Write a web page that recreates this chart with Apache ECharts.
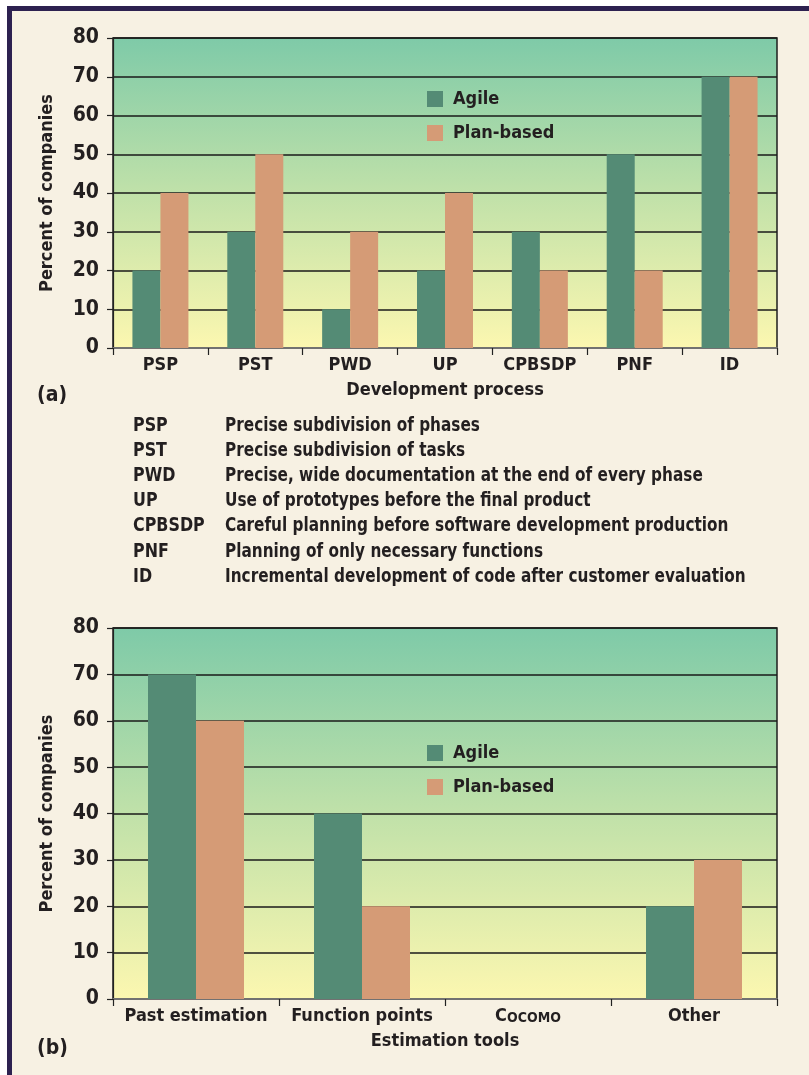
<!DOCTYPE html>
<html><head><meta charset="utf-8">
<script src="https://cdn.jsdelivr.net/npm/echarts@6/dist/echarts.min.js"></script>
<style>html,body{margin:0;padding:0;background:#fff;}#c{width:809px;height:1075px;}</style>
</head><body><div id="c"></div>
<script>
const processCats = ['PSP','PST','PWD','UP','CPBSDP','PNF','ID'];
const processAgile = [20,30,10,20,30,50,70];
const processPlan = [40,50,30,40,20,20,70];
const toolCats = ['Past estimation','Function points','Cocomo','Other'];
const toolAgile = [70,40,0,20];
const toolPlan = [60,20,0,30];
const yTicks = [0,10,20,30,40,50,60,70,80];
const defAbbr = ['PSP','PST','PWD','UP','CPBSDP','PNF','ID'];
const defText = ['Precise subdivision of phases','Precise subdivision of tasks','Precise, wide documentation at the end of every phase','Use of prototypes before the final product','Careful planning before software development production','Planning of only necessary functions','Incremental development of code after customer evaluation'];

const FONT = '"Liberation Sans Narrow","DejaVu Sans Condensed",sans-serif';
const TXT = '#231f20';
const AG = '#548b75', PL = '#d59b76';
const bg = new echarts.graphic.LinearGradient(0,0,0,1,[{offset:0,color:'#7ecaa8'},{offset:0.5,color:'#c0e1a9'},{offset:1,color:'#fcf7b0'}]);

function gridCfg(top,h){return {left:113,top:top,width:664,height:h,show:true,backgroundColor:bg,borderColor:'#1e1e1e',borderWidth:1.5};}
function yAx(i){return {type:'value',gridIndex:i,min:0,max:80,interval:10,
  name:'Percent of companies',nameLocation:'middle',nameGap:57,
  nameTextStyle:{fontFamily:FONT,fontWeight:'bold',fontSize:18,color:TXT},
  axisLabel:{fontFamily:FONT,fontWeight:'bold',fontSize:21,color:TXT,margin:14,
    formatter:v=>yTicks.includes(v)?String(v):''},
  axisLine:{show:true,lineStyle:{color:'#222',width:1.2}},
  axisTick:{show:true,length:6,lineStyle:{color:'#222',width:1.2}},
  splitLine:{show:true,lineStyle:{color:'#1a1a1a',width:1.5}}};}
function xAx(i,cats,name){return {type:'category',gridIndex:i,data:cats,
  name:name,nameLocation:'middle',nameGap:33,
  nameTextStyle:{fontFamily:FONT,fontWeight:'bold',fontSize:18,color:TXT},
  axisLabel:{fontFamily:FONT,fontWeight:'bold',fontSize:18,color:TXT,margin:8,interval:0,
    formatter:v=>v==='Cocomo'?'{b|C}{s|OCOMO}':v,
    rich:{b:{fontFamily:FONT,fontWeight:'bold',fontSize:18,lineHeight:18,verticalAlign:'bottom',color:TXT},
          s:{fontFamily:FONT,fontWeight:'bold',fontSize:14,lineHeight:14,verticalAlign:'bottom',color:TXT}}},
  axisLine:{show:true,lineStyle:{color:'#8a8a8a',width:1.5}},
  axisTick:{show:true,length:7,lineStyle:{color:'#222',width:1.2}}};}
function legendCfg(top){return {data:['Agile','Plan-based'],orient:'vertical',left:427,top:top,itemWidth:16,itemHeight:16,itemGap:16,
  icon:'rect',textStyle:{fontFamily:FONT,fontWeight:'bold',fontSize:18,color:TXT,padding:[0,0,0,5]},padding:0};}

const chart = echarts.init(document.getElementById('c'),null,{renderer:'canvas'});
chart.setOption({
  backgroundColor:'#f7f1e3',
  animation:false,
  grid:[gridCfg(38,310),gridCfg(628,371)],
  xAxis:[xAx(0,processCats,'Development process'),xAx(1,toolCats,'Estimation tools')],
  yAxis:[yAx(0),yAx(1)],
  legend:[legendCfg(90),legendCfg(744)],
  series:[
    {name:'Agile',type:'bar',xAxisIndex:0,yAxisIndex:0,data:processAgile,barWidth:28,barGap:'0%',itemStyle:{color:AG},z:3},
    {name:'Plan-based',type:'bar',xAxisIndex:0,yAxisIndex:0,data:processPlan,barWidth:28,barGap:'0%',itemStyle:{color:PL},z:3},
    {name:'Agile',type:'bar',xAxisIndex:1,yAxisIndex:1,data:toolAgile,barWidth:48,barGap:'0%',itemStyle:{color:AG},z:3},
    {name:'Plan-based',type:'bar',xAxisIndex:1,yAxisIndex:1,data:toolPlan,barWidth:48,barGap:'0%',itemStyle:{color:PL},z:3}
  ],
  graphic:[
    {type:'rect',shape:{x:0,y:0,width:809,height:6},style:{fill:'#ffffff'},silent:true},
    {type:'rect',shape:{x:0,y:0,width:7,height:1075},style:{fill:'#ffffff'},silent:true},
    {type:'rect',shape:{x:7,y:6,width:802,height:5},style:{fill:'#2d2150'},silent:true},
    {type:'rect',shape:{x:7,y:6,width:5,height:1069},style:{fill:'#2d2150'},silent:true},
    {type:'text',left:37,top:385,style:{text:'(a)',fontFamily:FONT,fontWeight:'bold',fontSize:21,fill:TXT}},
    {type:'text',left:37,top:1038,style:{text:'(b)',fontFamily:FONT,fontWeight:'bold',fontSize:21,fill:TXT}},
    {type:'text',x:133,y:413,scaleX:0.93,style:{text:defAbbr.join('\n'),fontFamily:FONT,fontWeight:'bold',fontSize:19,lineHeight:25.2,fill:TXT}},
    {type:'text',x:225,y:413,scaleX:0.895,style:{text:defText.join('\n'),fontFamily:FONT,fontWeight:'bold',fontSize:19,lineHeight:25.2,fill:TXT}}
  ]
});
</script></body></html>
